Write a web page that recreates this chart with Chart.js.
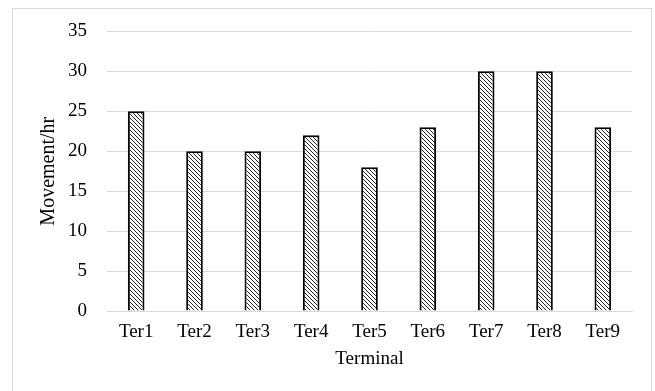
<!DOCTYPE html>
<html>
<head>
<meta charset="utf-8">
<script src="https://cdn.jsdelivr.net/npm/chart.js@4/dist/chart.umd.min.js"></script>
<style>
  html, body { margin: 0; padding: 0; background: #ffffff; }
  #wrap { position: relative; width: 655px; height: 391px; }
</style>
</head>
<body>
<div id="wrap"><canvas id="chart" width="655" height="391"></canvas></div>
<script>
const terminals = ['Ter1', 'Ter2', 'Ter3', 'Ter4', 'Ter5', 'Ter6', 'Ter7', 'Ter8', 'Ter9'];
const movementsPerHour = [25, 20, 20, 22, 18, 23, 30, 30, 23];
const yTicks = [0, 5, 10, 15, 20, 25, 30, 35];

// Diagonal hatch fill for the bars
function hatchPattern() {
  const size = 4;
  const c = document.createElement('canvas');
  c.width = size; c.height = size;
  const g = c.getContext('2d');
  g.fillStyle = '#ffffff';
  g.fillRect(0, 0, size, size);
  g.strokeStyle = '#222222';
  g.lineWidth = 1;
  g.beginPath();
  g.moveTo(-1, -1); g.lineTo(size + 1, size + 1);
  g.moveTo(-1, size - 1); g.lineTo(1, size + 1);
  g.moveTo(size - 1, -1); g.lineTo(size + 1, 1);
  g.stroke();
  return g.createPattern(c, 'repeat');
}

// Light frame around the whole chart
const frame = {
  id: 'frame',
  beforeDraw(chart) {
    const ctx = chart.ctx;
    ctx.save();
    ctx.strokeStyle = '#d9d9d9';
    ctx.lineWidth = 1;
    ctx.strokeRect(12.5, 8.5, 639, 420);
    ctx.restore();
  }
};

const serif = "'Liberation Serif', 'Times New Roman', serif";

new Chart(document.getElementById('chart'), {
  type: 'bar',
  data: {
    labels: terminals,
    datasets: [{
      data: movementsPerHour,
      backgroundColor: hatchPattern(),
      borderColor: '#000000',
      borderWidth: 2,
      barPercentage: 0.285,
      categoryPercentage: 1
    }]
  },
  options: {
    responsive: false,
    animation: false,
    layout: { padding: { left: 0, right: 23, top: 28, bottom: 0 } },
    plugins: { legend: { display: false }, tooltip: { enabled: false } },
    scales: {
      x: {
        grid: { display: false, drawTicks: false },
        border: { display: true, color: '#d9d9d9', width: 1 },
        ticks: { color: '#000000', padding: 10, font: { family: serif, size: 19 }, maxRotation: 0 },
        title: { display: true, text: 'Terminal', color: '#000000', padding: { top: 0, bottom: 21 }, font: { family: serif, size: 19 } },
        afterFit(scale) { scale.height = 80; }
      },
      y: {
        min: 0,
        max: 35,
        afterBuildTicks(scale) { scale.ticks = yTicks.map(v => ({ value: v })); },
        grid: { color: '#d9d9d9', lineWidth: 1, drawTicks: false },
        border: { display: false },
        ticks: { color: '#000000', padding: 20, font: { family: serif, size: 19 } },
        title: { display: true, text: 'Movement/hr', color: '#000000', padding: { top: 37, bottom: 0 }, font: { family: serif, size: 20 } },
        afterFit(scale) { scale.width = 107; }
      }
    }
  },
  plugins: [frame]
});
</script>
</body>
</html>
